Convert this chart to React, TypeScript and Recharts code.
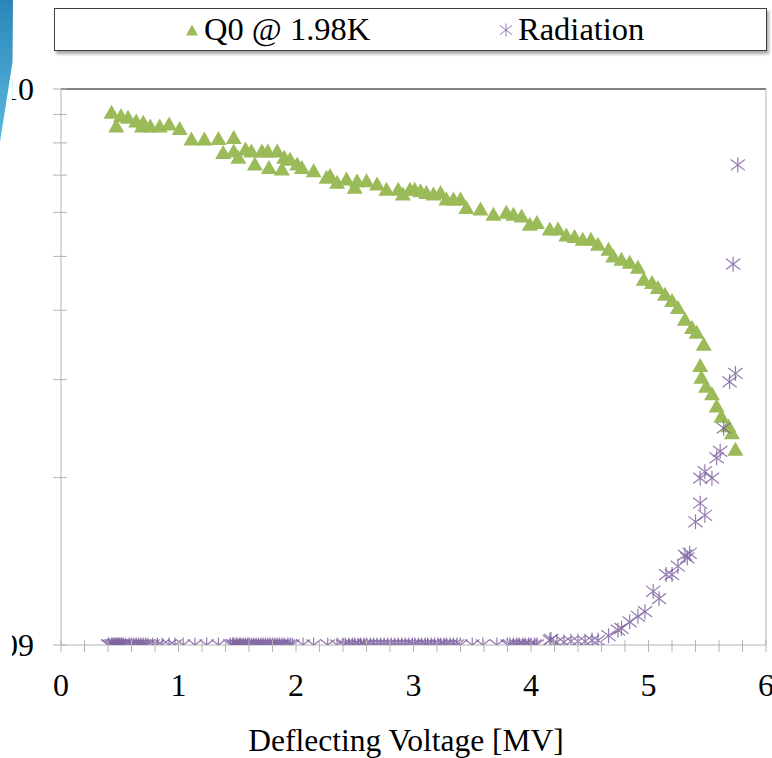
import React from 'react'
import {
  ScatterChart,
  Scatter,
  XAxis,
  YAxis,
  ReferenceLine,
  Legend,
} from 'recharts'

const FONT = '"Liberation Serif", "Times New Roman", serif'
const GREEN = '#9bbb59'
const PURPLE = '#8064a2'
const AXIS = '#b3b3b3'

const PLOT_LEFT = 61
const PLOT_BOTTOM = 645

// Q0 at 1.98 K vs deflecting voltage
const q0Voltage = [
  0.43, 0.47, 0.51, 0.57, 0.64, 0.69, 0.70, 0.76, 0.84, 0.92,
  1.01, 1.11, 1.22, 1.34, 1.38, 1.47, 1.47, 1.51, 1.57, 1.62,
  1.65, 1.71, 1.76, 1.77, 1.84, 1.88, 1.90, 1.95, 2.01, 2.05,
  2.15, 2.26, 2.29, 2.35, 2.43, 2.50, 2.52, 2.60, 2.69, 2.77,
  2.87, 2.91, 2.97, 3.01, 3.06, 3.11, 3.17, 3.23, 3.28, 3.34,
  3.40, 3.45, 3.57, 3.68, 3.79, 3.85, 3.92, 3.99, 4.05, 4.16,
  4.23, 4.30, 4.37, 4.44, 4.51, 4.57, 4.66, 4.70, 4.77, 4.84,
  4.91, 4.96, 5.03, 5.08, 5.14, 5.20, 5.25, 5.31, 5.37, 5.41,
  5.47, 5.44, 5.45, 5.49, 5.54, 5.58, 5.62, 5.68, 5.71, 5.74,
]
const q0Values = [
  9.05e9, 8.55e9, 8.92e9, 8.86e9, 8.73e9, 8.55e9, 8.68e9, 8.55e9, 8.55e9, 8.62e9,
  8.46e9, 8.10e9, 8.10e9, 8.12e9, 7.66e9, 8.15e9, 7.71e9, 7.51e9, 7.77e9, 7.71e9,
  7.30e9, 7.71e9, 7.71e9, 7.20e9, 7.71e9, 7.15e9, 7.51e9, 7.45e9, 7.30e9, 7.20e9,
  7.10e9, 6.91e9, 6.96e9, 6.77e9, 6.86e9, 6.63e9, 6.81e9, 6.81e9, 6.72e9, 6.58e9,
  6.58e9, 6.45e9, 6.58e9, 6.58e9, 6.54e9, 6.49e9, 6.45e9, 6.49e9, 6.32e9, 6.32e9,
  6.32e9, 6.10e9, 6.06e9, 5.93e9, 5.98e9, 5.93e9, 5.89e9, 5.69e9, 5.73e9, 5.58e9,
  5.58e9, 5.44e9, 5.41e9, 5.35e9, 5.35e9, 5.24e9, 5.13e9, 4.99e9, 4.92e9, 4.86e9,
  4.76e9, 4.53e9, 4.47e9, 4.38e9, 4.26e9, 4.15e9, 4.03e9, 3.84e9, 3.71e9, 3.64e9,
  3.46e9, 3.17e9, 3.02e9, 2.91e9, 2.82e9, 2.68e9, 2.57e9, 2.47e9, 2.40e9, 2.24e9,
]

// radiation (right axis, linear)
const radVoltage = [
  0.40, 0.41, 0.43, 0.44, 0.45, 0.46, 0.47, 0.48, 0.49, 0.50,
  0.51, 0.52, 0.53, 0.55, 0.58, 0.60, 0.62, 0.64, 0.66, 0.68,
  0.70, 0.72, 0.74, 0.78, 0.82, 0.86, 0.92, 0.97, 1.04, 1.14,
  1.24, 1.34, 1.44, 1.46, 1.47, 1.49, 1.50, 1.52, 1.53, 1.55,
  1.57, 1.59, 1.60, 1.62, 1.64, 1.66, 1.68, 1.70, 1.72, 1.74,
  1.76, 1.78, 1.80, 1.82, 1.84, 1.86, 1.88, 1.90, 1.93, 1.95,
  1.97, 2.06, 2.15, 2.27, 2.35, 2.40, 2.42, 2.45, 2.48, 2.50,
  2.53, 2.55, 2.58, 2.60, 2.63, 2.66, 2.69, 2.72, 2.75, 2.78,
  2.81, 2.84, 2.87, 2.90, 2.93, 2.96, 2.99, 3.01, 3.04, 3.07,
  3.10, 3.12, 3.15, 3.18, 3.21, 3.23, 3.26, 3.28, 3.31, 3.34,
  3.37, 3.40, 3.50, 3.59, 3.71, 3.80, 3.82, 3.85, 3.88, 3.90,
  3.93, 3.95, 3.98, 4.00, 4.03, 4.05, 4.16, 4.17, 4.22, 4.28,
  4.34, 4.40, 4.46, 4.52, 4.57, 4.66, 4.74, 4.77, 4.84, 4.91,
  4.97, 5.04, 5.09, 5.15, 5.20, 5.25, 5.31, 5.33, 5.35, 5.40,
  5.44, 5.48, 5.44, 5.48, 5.54, 5.58, 5.61, 5.64, 5.69, 5.74,
  5.72, 5.76,
]
const radValues = [
  0, 0, 0, 0, 0, 0, 0, 0, 0, 0,
  0, 0, 0, 0, 0, 0, 0, 0, 0, 0,
  0, 0, 0, 0, 0, 0, 0, 0, 0, 0,
  0, 0, 0, 0, 0, 0, 0, 0, 0, 0,
  0, 0, 0, 0, 0, 0, 0, 0, 0, 0,
  0, 0, 0, 0, 0, 0, 0, 0, 0, 0,
  0, 0, 0, 0, 0, 0, 0, 0, 0, 0,
  0, 0, 0, 0, 0, 0, 0, 0, 0, 0,
  0, 0, 0, 0, 0, 0, 0, 0, 0, 0,
  0, 0, 0, 0, 0, 0, 0, 0, 0, 0,
  0, 0, 0, 0, 0, 0, 0, 0, 0, 0,
  0, 0, 0, 0, 0, 0, 0.05, 0.06, 0.03, 0.03,
  0.04, 0.04, 0.04, 0.05, 0.05, 0.1, 0.16, 0.18, 0.25, 0.31,
  0.36, 0.58, 0.5, 0.76, 0.76, 0.85, 0.97, 0.94, 0.99, 1.33,
  1.53, 1.4, 1.8, 1.87, 1.8, 2.02, 2.09, 2.34, 2.84, 2.93,
  4.11, 5.18,
]

const xTicks = [
  0, 0.2, 0.4, 0.6, 0.8, 1, 1.2, 1.4, 1.6, 1.8, 2, 2.2, 2.4, 2.6, 2.8, 3,
  3.2, 3.4, 3.6, 3.8, 4, 4.2, 4.4, 4.6, 4.8, 5, 5.2, 5.4, 5.6, 5.8, 6,
]
const leftTicks = [1e9, 2e9, 3e9, 4e9, 5e9, 6e9, 7e9, 8e9, 9e9, 1e10]
const leftLabels: Record<number, string> = { 1e9: '1.E+09', 1e10: '1.E+10' }
const rightTicks = [0, 1, 2, 3, 4, 5, 6]

const seriesNames = ['Q0 @ 1.98K', 'Radiation']
const xTitle = 'Deflecting Voltage [MV]'

const q0Data = q0Voltage.map((x, i) => ({ x, y: q0Values[i] }))
const radData = radVoltage.map((x, i) => ({ x, y: radValues[i] }))

function Triangle({ cx, cy, w = 16, h = 14 }: any) {
  return (
    <path
      d={`M${cx},${cy - h * 0.6} L${cx + w / 2},${cy + h * 0.4} L${cx - w / 2},${cy + h * 0.4} Z`}
      fill={GREEN}
    />
  )
}

function Star({ cx, cy, r = 7.5, sw = 1.2 }: any) {
  const dx = r * 0.95
  const dy = r * 0.72
  return (
    <g stroke={PURPLE} strokeWidth={sw} opacity={0.85}>
      <line x1={cx} y1={cy - r} x2={cx} y2={cy + r} />
      <line x1={cx - dx} y1={cy - dy} x2={cx + dx} y2={cy + dy} />
      <line x1={cx - dx} y1={cy + dy} x2={cx + dx} y2={cy - dy} />
    </g>
  )
}

function XTick(props: any) {
  const { x, payload } = props
  const v = payload.value
  const major = Math.abs(v - Math.round(v)) < 1e-6
  return (
    <g>
      <line x1={x} x2={x} y1={PLOT_BOTTOM - 5} y2={PLOT_BOTTOM + 7} stroke={AXIS} />
      {major && (
        <text x={x} y={696} textAnchor="middle" fontSize={32} fontFamily={FONT} fill="#000">
          {Math.round(v)}
        </text>
      )}
    </g>
  )
}

function LeftTick(props: any) {
  const { y, payload } = props
  const label = leftLabels[payload.value]
  return (
    <g>
      <line x1={PLOT_LEFT - 8} x2={PLOT_LEFT + 6} y1={y} y2={y} stroke={AXIS} />
      {label && (
        <text x={34} y={y + 11} textAnchor="end" fontSize={32} fontFamily={FONT} fill="#000">
          {label}
        </text>
      )}
    </g>
  )
}

function LegendBox() {
  const offsets = [129, 443]
  return (
    <div
      style={{
        position: 'absolute',
        left: 54,
        top: 8,
        width: 711,
        height: 41,
        border: '1.5px solid #404040',
        boxShadow: '2px 3px 3px rgba(0,0,0,0.35)',
        background: '#fff',
        fontFamily: FONT,
        fontSize: 32.5,
        color: '#000',
      }}
    >
      {seriesNames.map((name, i) => (
        <div
          key={name}
          style={{ position: 'absolute', left: offsets[i], top: 0, height: 41, display: 'flex', alignItems: 'center' }}
        >
          <svg width={16} height={16} style={{ marginRight: 4 }}>
            {i === 0 ? <Triangle cx={8} cy={9} w={12} h={11} /> : <Star cx={8} cy={8} r={6.5} sw={1} />}
          </svg>
          <span style={{ lineHeight: '41px' }}>{name}</span>
        </div>
      ))}
    </div>
  )
}

export default function App() {
  return (
    <div style={{ position: 'absolute', left: 0, top: 0, width: 772, height: 758, background: '#fff' }}>
      <div style={{ position: 'absolute', left: 12, top: 0, width: 760, height: 758, overflow: 'hidden' }}>
        <div style={{ marginLeft: -12 }}>
          <ScatterChart width={772} height={758} margin={{ top: 89, right: 0, bottom: 0, left: 0 }}>
            <XAxis
              dataKey="x"
              type="number"
              domain={[0, 6]}
              ticks={xTicks}
              interval={0}
              allowDataOverflow
              tickLine={false}
              axisLine={{ stroke: AXIS }}
              tick={(p: any) => <XTick {...p} />}
              height={113}
              label={{
                content: () => (
                  <text x={406} y={751} textAnchor="middle" fontSize={31.5} fontFamily={FONT} fill="#000">
                    {xTitle}
                  </text>
                ),
              }}
            />
            <YAxis
              yAxisId="left"
              dataKey="y"
              type="number"
              scale="log"
              domain={[1e9, 1e10]}
              ticks={leftTicks}
              interval={0}
              allowDataOverflow
              tickLine={false}
              axisLine={{ stroke: AXIS }}
              tick={(p: any) => <LeftTick {...p} />}
              width={61}
            />
            <YAxis
              yAxisId="right"
              orientation="right"
              dataKey="y"
              type="number"
              domain={[0, 6]}
              ticks={rightTicks}
              interval={0}
              allowDataOverflow
              tick={false}
              tickSize={6}
              tickLine={{ stroke: AXIS }}
              axisLine={{ stroke: AXIS }}
              width={6}
            />
            <ReferenceLine yAxisId="left" y={1e10} stroke="#595959" strokeWidth={1.5} />
            <Legend
              layout="horizontal"
              verticalAlign="middle"
              align="center"
              wrapperStyle={{ top: 0, left: 0, width: 772, height: 60 }}
              content={() => <LegendBox />}
            />
            <Scatter
              name={seriesNames[0]}
              yAxisId="left"
              data={q0Data}
              isAnimationActive={false}
              shape={(p: any) => <Triangle cx={p.cx} cy={p.cy} />}
            />
            <Scatter
              name={seriesNames[1]}
              yAxisId="right"
              data={radData}
              isAnimationActive={false}
              shape={(p: any) => <Star cx={p.cx} cy={p.cy} />}
            />
          </ScatterChart>
        </div>
      </div>
      <svg width={16} height={145} style={{ position: 'absolute', left: 0, top: 0 }}>
        <defs>
          <linearGradient id="blueBar" x1="0" y1="0" x2="0" y2="1">
            <stop offset="0%" stopColor="#2a86b8" />
            <stop offset="100%" stopColor="#5bb9de" />
          </linearGradient>
        </defs>
        <path d="M0,0 L13,0 L12.5,62 L0,142 Z" fill="url(#blueBar)" />
      </svg>
    </div>
  )
}
